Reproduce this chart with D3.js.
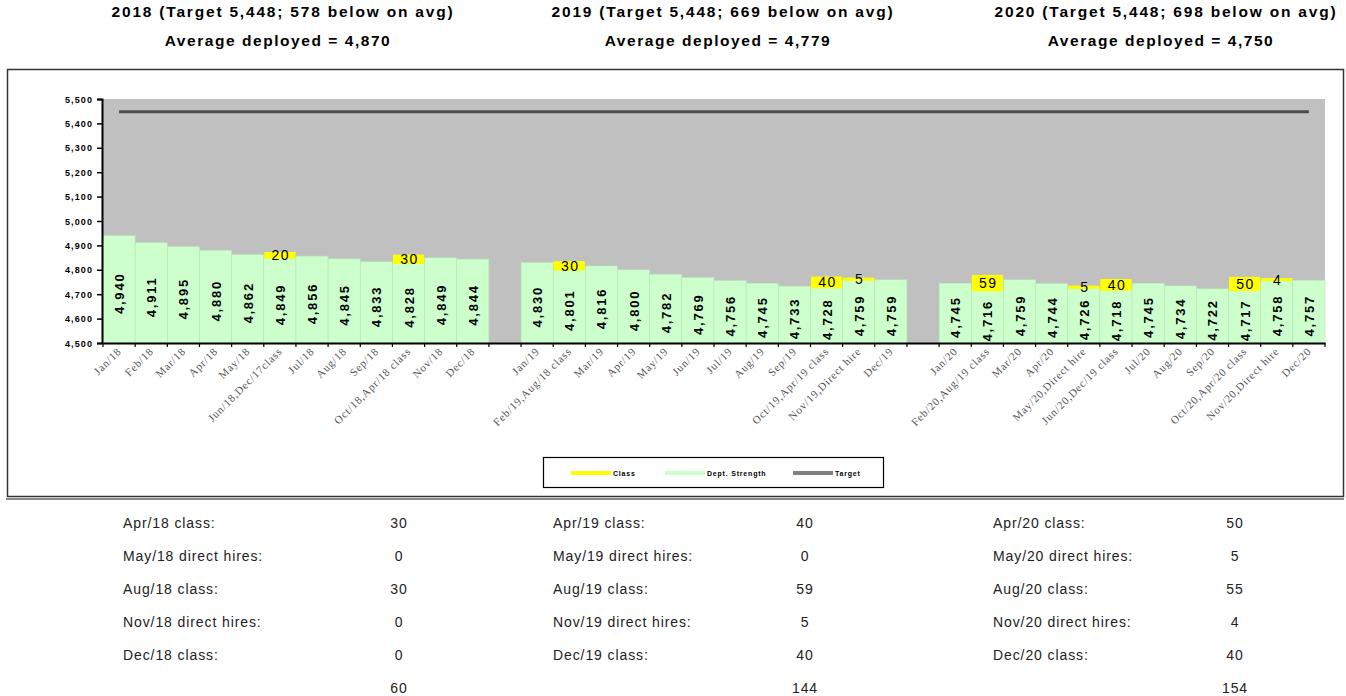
<!DOCTYPE html>
<html>
<head>
<meta charset="utf-8">
<script src="https://cdn.jsdelivr.net/npm/d3@7"></script>
<style>
  body { margin: 0; background: #fff; }
  svg { display: block; }
</style>
</head>
<body>
<script>
// months on the x axis, blank entries are the gaps between years
var categories = [
  "Jan/18", "Feb/18", "Mar/18", "Apr/18", "May/18", "Jun/18,Dec/17class", "Jul/18", "Aug/18", "Sep/18", "Oct/18,Apr/18 class", "Nov/18", "Dec/18",
  "",
  "Jan/19", "Feb/19,Aug/18 class", "Mar/19", "Apr/19", "May/19", "Jun/19", "Jul/19", "Aug/19", "Sep/19", "Oct/19,Apr/19 class", "Nov/19,Direct hire", "Dec/19",
  "",
  "Jan/20", "Feb/20,Aug/19 class", "Mar/20", "Apr/20", "May/20,Direct hire", "Jun/20,Dec/19 class", "Jul/20", "Aug/20", "Sep/20", "Oct/20,Apr/20 class", "Nov/20,Direct hire", "Dec/20"
];
var strength = [
  4940, 4911, 4895, 4880, 4862, 4849, 4856, 4845, 4833, 4828, 4849, 4844,
  null,
  4830, 4801, 4816, 4800, 4782, 4769, 4756, 4745, 4733, 4728, 4759, 4759,
  null,
  4745, 4716, 4759, 4744, 4726, 4718, 4745, 4734, 4722, 4717, 4758, 4757
];
var classes = [
  0, 0, 0, 0, 0, 20, 0, 0, 0, 30, 0, 0,
  0,
  0, 30, 0, 0, 0, 0, 0, 0, 0, 40, 5, 0,
  0,
  0, 59, 0, 0, 5, 40, 0, 0, 0, 50, 4, 0
];
var target = 5448;

var titles = [
  "2018 (Target 5,448; 578 below on avg)",
  "2019 (Target 5,448; 669 below on avg)",
  "2020 (Target 5,448; 698 below on avg)"
];
var subtitles = [
  "Average deployed = 4,870",
  "Average deployed = 4,779",
  "Average deployed = 4,750"
];
var tableLabels = [
  ["Apr/18 class:", "May/18 direct hires:", "Aug/18 class:", "Nov/18 direct hires:", "Dec/18 class:", ""],
  ["Apr/19 class:", "May/19 direct hires:", "Aug/19 class:", "Nov/19 direct hires:", "Dec/19 class:", ""],
  ["Apr/20 class:", "May/20 direct hires:", "Aug/20 class:", "Nov/20 direct hires:", "Dec/20 class:", ""]
];
var tableValues = [
  [30, 0, 30, 0, 0, 60],
  [40, 0, 59, 5, 40, 144],
  [50, 5, 55, 4, 40, 154]
];

var width = 1346, height = 696;
var svg = d3.select("body").append("svg").attr("width", width).attr("height", height);

// headings
var titleX = [283, 723, 1166];
svg.selectAll(".title").data(titles).enter().append("text")
  .attr("x", function(d, i) { return titleX[i]; }).attr("y", 17)
  .attr("text-anchor", "middle")
  .style("font", "bold 15.5px 'Liberation Sans', Arial, sans-serif")
  .style("letter-spacing", "1.8px")
  .text(function(d) { return d; });
svg.selectAll(".sub").data(subtitles).enter().append("text")
  .attr("x", function(d, i) { return titleX[i] - 5; }).attr("y", 46)
  .attr("text-anchor", "middle")
  .style("font", "bold 15.5px 'Liberation Sans', Arial, sans-serif")
  .style("letter-spacing", "1.55px")
  .text(function(d) { return d; });

// chart frame
svg.append("line").attr("x1", 6).attr("x2", 1344).attr("y1", 499).attr("y2", 499)
  .attr("stroke", "#888").attr("stroke-width", 2);
svg.append("rect").attr("x", 7.5).attr("y", 69.5).attr("width", 1336).attr("height", 427)
  .attr("fill", "#fff").attr("stroke", "#333").attr("stroke-width", 1.5);

var x = d3.scaleBand().domain(d3.range(categories.length)).range([103, 1325]).padding(0);
var y = d3.scaleLinear().domain([4500, 5500]).range([343, 99]);

var plot = svg.append("g");
plot.append("rect").attr("x", 103).attr("y", y(5500)).attr("width", 1325 - 103).attr("height", y(4500) - y(5500))
  .attr("fill", "#c0c0c0");

var idx = d3.range(categories.length);

// Dept. Strength bars
plot.selectAll(".bar").data(idx.filter(function(i) { return strength[i] != null; })).enter().append("rect")
  .attr("x", function(i) { return x(i); })
  .attr("y", function(i) { return y(strength[i]); })
  .attr("width", x.bandwidth())
  .attr("height", function(i) { return y(4500) - y(strength[i]); })
  .attr("fill", "#ccffcc").attr("stroke", "#b8e4b8").attr("stroke-width", 0.6);

// Class segments stacked on top
var withClass = idx.filter(function(i) { return classes[i] > 0; });
plot.selectAll(".cls").data(withClass).enter().append("rect")
  .attr("x", function(i) { return x(i) + 0.5; })
  .attr("y", function(i) { return y(strength[i] + classes[i]) - 1; })
  .attr("width", x.bandwidth() - 1)
  .attr("height", function(i) { return y(strength[i]) - y(strength[i] + classes[i]) + 2; })
  .attr("fill", "#ffff00");

// target line
var line = d3.line()
  .x(function(i) { return x(i) + x.bandwidth() / 2; })
  .y(function() { return y(target); });
plot.append("path").attr("d", line(idx))
  .attr("fill", "none").attr("stroke", "#4d4d4d").attr("stroke-width", 3);

// bar value labels
plot.selectAll(".val").data(idx.filter(function(i) { return strength[i] != null; })).enter().append("text")
  .attr("transform", function(i) {
    var cx = x(i) + x.bandwidth() / 2 + 5;
    var cy = (y(4500) + y(strength[i])) / 2 + 4;
    return "translate(" + cx + "," + cy + ") rotate(-90)";
  })
  .attr("text-anchor", "middle")
  .style("font", "bold 13px 'Liberation Sans', Arial, sans-serif")
  .style("letter-spacing", "1.8px")
  .text(function(i) { return d3.format(",")(strength[i]); });

// class labels
plot.selectAll(".clsval").data(withClass).enter().append("text")
  .attr("x", function(i) { return x(i) + x.bandwidth() / 2 + 1; })
  .attr("y", function(i) { return (y(strength[i]) + y(strength[i] + classes[i])) / 2 + 5; })
  .attr("text-anchor", "middle")
  .style("font", "14px 'Liberation Sans', Arial, sans-serif")
  .style("letter-spacing", "1.5px")
  .text(function(i) { return classes[i]; });

// axes
var yAxis = d3.axisLeft(y).tickValues(d3.range(4500, 5501, 100)).tickSize(5).tickFormat(d3.format(","));
var yg = svg.append("g").attr("transform", "translate(102,0)").call(yAxis);
yg.select(".domain").attr("stroke", "#000").attr("stroke-width", 2);
yg.selectAll(".tick line").attr("stroke", "#000").attr("stroke-width", 1.5);
yg.selectAll(".tick text").attr("x", -9).attr("dy", "0.35em")
  .style("font", "bold 9px 'Liberation Sans', Arial, sans-serif").style("letter-spacing", "1.1px");

var xAxis = d3.axisBottom(x).tickSize(0).tickFormat("");
var xg = svg.append("g").attr("transform", "translate(0,343)").call(xAxis);
xg.select(".domain").attr("stroke", "#000").attr("stroke-width", 2);
xg.selectAll(".bound").data(d3.range(categories.length + 1)).enter().append("line")
  .attr("x1", function(i) { return 103 + i * x.step(); })
  .attr("x2", function(i) { return 103 + i * x.step(); })
  .attr("y1", 0).attr("y2", 4).attr("stroke", "#000").attr("stroke-width", 1.2);
xg.selectAll(".lbl").data(idx).enter().append("text")
  .attr("transform", function(i) { return "translate(" + (x(i) + x.bandwidth() / 2 + 3) + ",9) rotate(-45)"; })
  .attr("text-anchor", "end")
  .attr("fill", "#555")
  .style("font", "11px 'Liberation Serif', 'Times New Roman', serif")
  .style("letter-spacing", "0.8px")
  .text(function(i) { return categories[i]; });

// legend
var lg = svg.append("g").attr("transform", "translate(543,457)");
lg.append("rect").attr("x", 0.5).attr("y", 0.5).attr("width", 340).attr("height", 30)
  .attr("fill", "#fff").attr("stroke", "#000").attr("stroke-width", 1.2);
var legendItems = [
  { name: "Class", color: "#ffff00", x: 28 },
  { name: "Dept. Strength", color: "#ccffcc", x: 122 },
  { name: "Target", color: "#808080", x: 250 }
];
legendItems.forEach(function(d) {
  lg.append("rect").attr("x", d.x).attr("y", 14).attr("width", 40).attr("height", 4).attr("fill", d.color);
  lg.append("text").attr("x", d.x + 42).attr("y", 19)
    .style("font", "bold 7px 'Liberation Sans', Arial, sans-serif")
    .style("letter-spacing", "0.8px")
    .text(d.name);
});

// tables below
var colLabelX = [123, 553, 993];
var colValueX = [399, 805, 1235];
var rowY = [528, 561, 594, 627, 660, 693];
tableLabels.forEach(function(rows, c) {
  rows.forEach(function(lbl, r) {
    svg.append("text").attr("x", colLabelX[c]).attr("y", rowY[r])
      .attr("fill", "#222")
      .style("font", "14px 'Liberation Sans', Arial, sans-serif")
      .style("letter-spacing", "0.9px")
      .text(lbl);
    svg.append("text").attr("x", colValueX[c]).attr("y", rowY[r])
      .attr("text-anchor", "middle")
      .attr("fill", "#222")
      .style("font", "14px 'Liberation Sans', Arial, sans-serif")
      .style("letter-spacing", "0.9px")
      .text(tableValues[c][r]);
  });
});
</script>
</body>
</html>
